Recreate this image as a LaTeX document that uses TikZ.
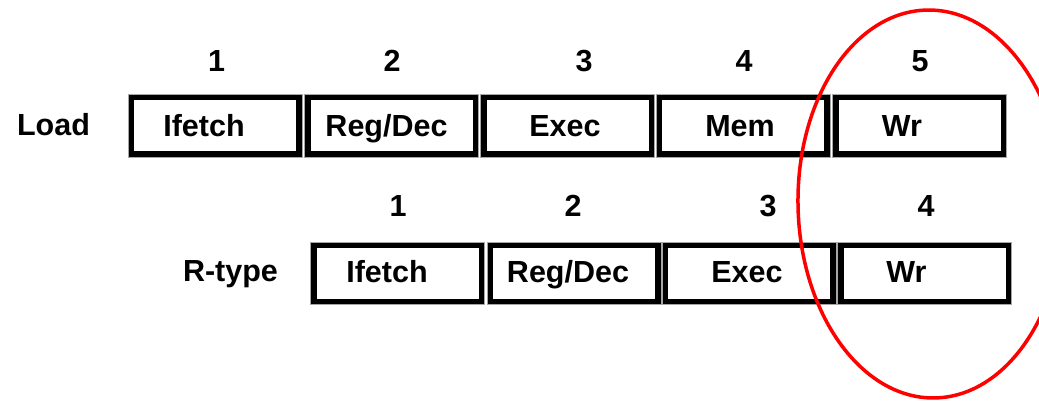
\documentclass[tikz,border=0pt]{standalone}
\usepackage{fontspec}
\setmainfont{Liberation Sans}
\usetikzlibrary{shapes,positioning}

\tikzset{
    stage/.style={draw, rectangle, line width=5.5pt, minimum width=167.5pt, minimum height=56.5pt, inner sep=0pt, outer sep=0pt},
    cellframe/.style={draw=black!35, line width=0.7pt},
    txt/.style={font=\fontsize{30.5}{36}\selectfont\bfseries, inner sep=0pt, anchor=base},
}

\begin{document}
\begin{tikzpicture}[x=1pt, y=1pt]
    \useasboundingbox (0,0) rectangle (1039,401);

    % Load row
    \node[stage] (ld1) at (215,275) {};
    \node[stage] (ld2) at (391.5,275) {};
    \node[stage] (ld3) at (567.5,275) {};
    \node[stage] (ld4) at (743,275) {};
    \node[stage] (ld5) at (919.5,275) {};

    % R-type row
    \node[stage] (rt1) at (397.5,127.5) {};
    \node[stage] (rt2) at (574,127.5) {};
    \node[stage] (rt3) at (749,127.5) {};
    \node[stage] (rt4) at (924.5,127.5) {};

    % thin cell borders
    \foreach \n in {ld1,ld2,ld3,ld4,ld5,rt1,rt2,rt3,rt4}
        \draw[cellframe] ([shift={(-3.3,-3.1)}]\n.south west) rectangle ([shift={(3.3,3.1)}]\n.north east);

    % Stage names
    \node[txt] (ld1t) at ([xshift=-11pt, yshift=-10.5pt]ld1.center) {Ifetch};
    \node[txt] (ld2t) at ([xshift=-5pt, yshift=-10.5pt]ld2.center) {Reg/Dec};
    \node[txt] (ld3t) at ([xshift=-2.5pt, yshift=-10.5pt]ld3.center) {Exec};
    \node[txt] (ld4t) at ([xshift=-3pt, yshift=-10.5pt]ld4.center) {Mem};
    \node[txt] (ld5t) at ([xshift=-17.5pt, yshift=-10.5pt]ld5.center) {Wr};

    \node[txt] (rt1t) at ([xshift=-10.5pt, yshift=-9pt]rt1.center) {Ifetch};
    \node[txt] (rt2t) at ([xshift=-6pt, yshift=-9pt]rt2.center) {Reg/Dec};
    \node[txt] (rt3t) at ([xshift=-2pt, yshift=-9pt]rt3.center) {Exec};
    \node[txt] (rt4t) at ([xshift=-18pt, yshift=-9pt]rt4.center) {Wr};

    % Row names
    \node[txt] (load) at (53.5,265.5) {Load};
    \node[txt] (rtype) at (230.5,119) {R-type};

    % Step numbers
    \node[txt] (ldn1) at (216.5,329) {1};
    \node[txt] (ldn2) at (392,329) {2};
    \node[txt] (ldn3) at (584,329) {3};
    \node[txt] (ldn4) at (744,329) {4};
    \node[txt] (ldn5) at (920,329) {5};

    \node[txt] (rtn1) at (398,184.5) {1};
    \node[txt] (rtn2) at (573,184.5) {2};
    \node[txt] (rtn3) at (768,184.5) {3};
    \node[txt] (rtn4) at (926,184.5) {4};

    % Write stage
    \draw[red, line width=3.5pt, rotate around={1.2:(931,197)}] (931,197) ellipse [x radius=133, y radius=194];

\end{tikzpicture}
\end{document}
